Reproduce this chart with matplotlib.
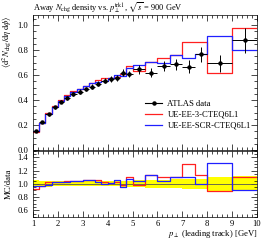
import matplotlib
matplotlib.use("Agg")
import matplotlib.pyplot as plt
import numpy as np
from matplotlib.ticker import MultipleLocator
from matplotlib.lines import Line2D

# bin edges of leading-track pT [GeV]
edges = [1.0, 1.25, 1.5, 1.75, 2.0, 2.25, 2.5, 2.75, 3.0, 3.25, 3.5, 3.75, 4.0,
         4.25, 4.5, 4.75, 5.0, 5.5, 6.0, 6.5, 7.0, 7.5, 8.0, 9.0, 10.0]

data_y = [0.155, 0.224, 0.288, 0.341, 0.387, 0.419, 0.447, 0.468, 0.490, 0.508,
          0.530, 0.556, 0.567, 0.575, 0.620, 0.611, 0.645, 0.620, 0.670, 0.686,
          0.667, 0.765, 0.693, 0.877]
data_err = [0.008, 0.010, 0.012, 0.013, 0.014, 0.015, 0.016, 0.017, 0.018, 0.019,
            0.020, 0.021, 0.022, 0.023, 0.025, 0.025, 0.035, 0.037, 0.040, 0.045,
            0.050, 0.060, 0.070, 0.100]

ee3 = [0.143, 0.217, 0.294, 0.351, 0.399, 0.440, 0.469, 0.491, 0.515, 0.538,
       0.557, 0.573, 0.573, 0.587, 0.608, 0.672, 0.632, 0.707, 0.737, 0.761,
       0.867, 0.864, 0.617, 0.973]
scr = [0.150, 0.217, 0.285, 0.348, 0.395, 0.432, 0.465, 0.487, 0.515, 0.538,
       0.541, 0.556, 0.578, 0.604, 0.595, 0.660, 0.677, 0.701, 0.697, 0.761,
       0.734, 0.765, 0.915, 0.798]

plt.rcParams["font.family"] = ["Liberation Serif", "DejaVu Serif"]
plt.rcParams["mathtext.fontset"] = "stix"
plt.rcParams["font.size"] = 6.2

edges = np.array(edges)
centers = 0.5 * (edges[1:] + edges[:-1])
halfw = 0.5 * (edges[1:] - edges[:-1])
data_y = np.array(data_y)
data_err = np.array(data_err)

def step(vals):
    v = np.array(vals)
    return np.append(v, v[-1])

fig = plt.figure(figsize=(2.66, 2.40), dpi=100)
ax = fig.add_axes([0.124, 0.375, 0.842, 0.5625])
rax = fig.add_axes([0.124, 0.096, 0.842, 0.276])

red = "#ff2020"
blue = "#2020ff"

for a in (ax, rax):
    a.tick_params(which="both", direction="in", top=True, right=True, width=0.5)
    a.tick_params(which="major", length=4)
    a.tick_params(which="minor", length=2)
    a.xaxis.set_major_locator(MultipleLocator(1))
    a.xaxis.set_minor_locator(MultipleLocator(0.2))
    a.set_xlim(1, 10)
    for s in a.spines.values():
        s.set_linewidth(0.5)

# main panel
ax.step(edges, step(ee3), where="post", color=red, lw=0.9)
ax.step(edges, step(scr), where="post", color=blue, lw=0.9)
ax.errorbar(centers, data_y, xerr=halfw, yerr=data_err, fmt="o", color="black",
            ms=2.2, lw=0.7, capsize=0)
ax.set_ylim(0, 1.08)
ax.yaxis.set_major_locator(MultipleLocator(0.2))
ax.yaxis.set_minor_locator(MultipleLocator(0.05))
ax.set_xticklabels([])
ax.set_ylabel(r"$\langle\mathrm{d}^2 N_{\mathrm{chg}}/\mathrm{d}\eta\,\mathrm{d}\phi\rangle$",
              loc="top", labelpad=2)
fig.text(0.124, 0.955,
         r"Away $N_{\mathrm{chg}}$ density vs. $p_\perp^{\mathrm{trk1}}$, $\sqrt{s}$ = 900 GeV",
         ha="left", va="baseline", fontsize=6.0)

handles = [Line2D([], [], color="black", marker="o", ms=2.2, lw=0.8),
           Line2D([], [], color=red, lw=0.9),
           Line2D([], [], color=blue, lw=0.9)]
labels = ["ATLAS data", "UE-EE-3-CTEQ6L1", "UE-EE-SCR-CTEQ6L1"]
ax.legend(handles, labels, loc="lower left", bbox_to_anchor=(0.5, 0.15),
          frameon=False, borderpad=0, borderaxespad=0, handlelength=2.0,
          labelspacing=0.35, handletextpad=0.6)

# ratio panel
rel = data_err / data_y
rax.fill_between(edges, step(1 - rel), step(1 + rel), step="post", color="#ffff00",
                 lw=0)
rax.axhline(1.0, color="#555555", lw=0.6)
rax.step(edges, step(np.array(ee3) / data_y), where="post", color=red, lw=0.9)
rax.step(edges, step(np.array(scr) / data_y), where="post", color=blue, lw=0.9)
rax.set_ylim(0.5, 1.5)
rax.yaxis.set_major_locator(MultipleLocator(0.2))
rax.yaxis.set_minor_locator(MultipleLocator(0.05))
rax.set_ylabel("MC/data", labelpad=3)
rax.set_xlabel(r"$p_\perp$ (leading track) [GeV]", loc="right", labelpad=0)
rax.tick_params(axis="x", pad=2)

fig.savefig("out.png", dpi=100)
